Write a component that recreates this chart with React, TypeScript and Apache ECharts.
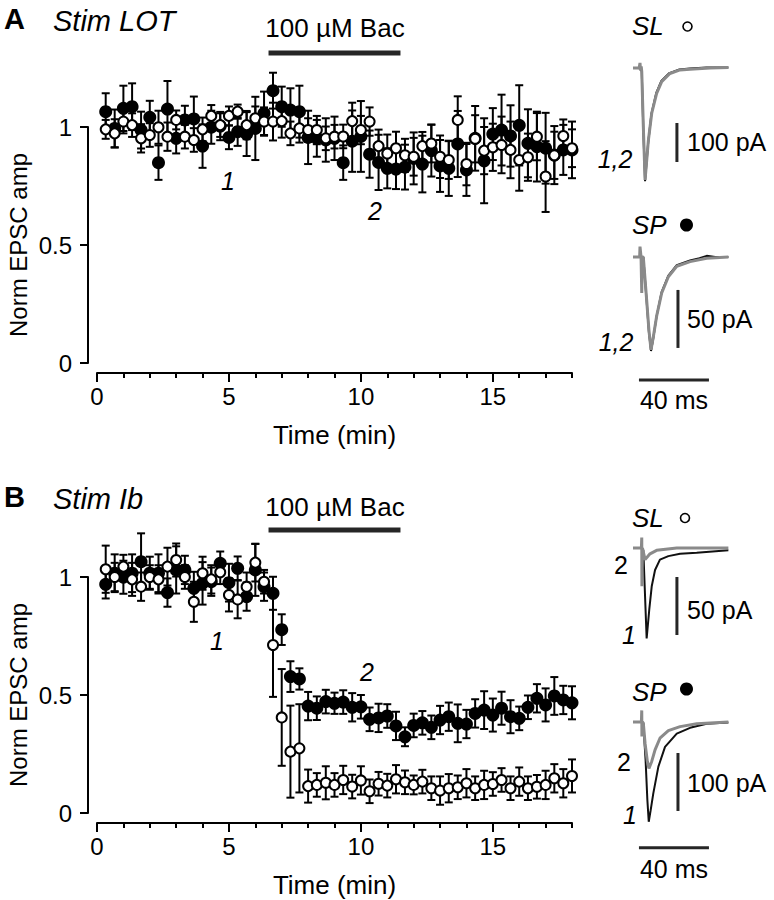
import React, { useEffect, useRef } from 'react';
import * as echarts from 'echarts';

const FONT = '"Liberation Sans", Arial, Helvetica, sans-serif';

// Sampling times (min)
const TIME = [0.33, 0.67, 1.0, 1.33, 1.67, 2.0, 2.33, 2.67, 3.0, 3.33, 3.67, 4.0, 4.33, 4.67, 5.0, 5.33, 5.67, 6.0,
  6.33, 6.67, 7.0, 7.33, 7.67, 8.0, 8.33, 8.67, 9.0, 9.33, 9.67, 10.0, 10.33, 10.67, 11.0, 11.33, 11.67, 12.0,
  12.33, 12.67, 13.0, 13.33, 13.67, 14.0, 14.33, 14.67, 15.0, 15.33, 15.67, 16.0, 16.33, 16.67, 17.0, 17.33, 17.67, 18.0];

// Panel A (Stim LOT)
const A_SP = [1.065, 0.994, 1.079, 1.086, 0.987, 1.041, 0.849, 1.076, 0.952, 1.03, 1.034, 0.919, 0.999, 1.004, 0.956, 0.98, 0.97, 0.994,
  1.058, 1.154, 1.086, 1.072, 1.065, 0.956, 0.952, 0.945, 0.952, 0.849, 0.94, 0.96, 0.885, 0.85, 0.825, 0.822, 0.83, 0.867,
  0.843, 0.9, 0.835, 0.825, 0.928, 0.818, 0.952, 0.857, 0.97, 0.987, 0.962, 1.007, 0.931, 0.917, 0.91, 0.881, 0.903, 0.903];
const A_SP_ERR = [0.078, 0.08, 0.096, 0.099, 0.078, 0.07, 0.073, 0.119, 0.064, 0.06, 0.095, 0.092, 0.07, 0.06, 0.05, 0.06, 0.093, 0.134,
  0.092, 0.076, 0.085, 0.092, 0.11, 0.113, 0.078, 0.092, 0.092, 0.073, 0.13, 0.15, 0.1, 0.117, 0.085, 0.085, 0.095, 0.11,
  0.12, 0.11, 0.11, 0.117, 0.14, 0.11, 0.137, 0.18, 0.11, 0.15, 0.13, 0.17, 0.144, 0.148, 0.15, 0.123, 0.106, 0.12];
const A_SL = [0.99, 0.973, 1.023, 1.008, 0.952, 0.966, 0.999, 0.959, 1.03, 0.959, 0.945, 0.99, 1.047, 1.008, 1.047, 1.065, 1.008, 1.037,
  1.023, 1.023, 1.025, 0.973, 0.994, 0.987, 0.987, 0.952, 0.959, 0.96, 1.025, 0.987, 1.023, 0.919, 0.888, 0.91, 0.88, 0.874,
  0.919, 0.93, 0.874, 0.86, 1.03, 0.843, 0.95, 0.9, 0.914, 0.924, 0.903, 0.86, 0.872, 0.959, 0.79, 0.88, 0.962, 0.91];
const A_SL_ERR = [0.04, 0.06, 0.05, 0.05, 0.06, 0.05, 0.07, 0.06, 0.04, 0.05, 0.05, 0.05, 0.046, 0.05, 0.04, 0.03, 0.06, 0.05,
  0.06, 0.08, 0.07, 0.05, 0.06, 0.05, 0.06, 0.05, 0.05, 0.05, 0.078, 0.06, 0.06, 0.07, 0.08, 0.07, 0.07, 0.08,
  0.06, 0.08, 0.09, 0.08, 0.1, 0.09, 0.1, 0.1, 0.1, 0.12, 0.12, 0.13, 0.1, 0.1, 0.15, 0.1, 0.07, 0.08];

// Panel B (Stim Ib)
const B_SP = [0.969, 1.016, 0.999, 1.016, 1.065, 1.016, 1.016, 0.934, 1.03, 1.03, 0.952, 0.973, 0.98, 1.058, 0.976, 1.037, 0.917, 1.03,
  0.959, 0.931, 0.777, 0.578, 0.568, 0.453, 0.444, 0.472, 0.465, 0.47, 0.448, 0.45, 0.397, 0.403, 0.411, 0.369, 0.323, 0.371,
  0.382, 0.363, 0.394, 0.408, 0.38, 0.377, 0.422, 0.436, 0.415, 0.444, 0.408, 0.401, 0.448, 0.486, 0.458, 0.496, 0.479, 0.467];
const B_SP_ERR = [0.06, 0.08, 0.07, 0.08, 0.12, 0.07, 0.08, 0.06, 0.1, 0.06, 0.07, 0.09, 0.06, 0.05, 0.08, 0.05, 0.06, 0.11,
  0.06, 0.07, 0.065, 0.065, 0.045, 0.06, 0.05, 0.05, 0.045, 0.05, 0.06, 0.05, 0.05, 0.06, 0.05, 0.06, 0.04, 0.05,
  0.05, 0.05, 0.06, 0.06, 0.08, 0.06, 0.06, 0.08, 0.07, 0.07, 0.07, 0.05, 0.05, 0.06, 0.07, 0.08, 0.06, 0.07];
const B_SL = [1.033, 1.0, 1.044, 0.99, 0.959, 1.0, 0.99, 1.044, 1.072, 1.0, 0.895, 1.016, 0.99, 1.02, 0.924, 0.905, 0.959, 1.061,
  0.98, 0.712, 0.405, 0.26, 0.274, 0.114, 0.119, 0.128, 0.119, 0.14, 0.112, 0.138, 0.092, 0.124, 0.116, 0.143, 0.13, 0.119,
  0.133, 0.105, 0.095, 0.105, 0.109, 0.126, 0.105, 0.119, 0.123, 0.14, 0.105, 0.133, 0.105, 0.111, 0.119, 0.147, 0.126, 0.157];
const B_SL_ERR = [0.1, 0.06, 0.05, 0.07, 0.06, 0.05, 0.06, 0.08, 0.07, 0.05, 0.085, 0.07, 0.06, 0.05, 0.07, 0.08, 0.06, 0.08,
  0.05, 0.22, 0.205, 0.195, 0.187, 0.07, 0.05, 0.07, 0.05, 0.06, 0.05, 0.06, 0.05, 0.05, 0.05, 0.06, 0.05, 0.04,
  0.05, 0.05, 0.06, 0.06, 0.05, 0.06, 0.05, 0.06, 0.05, 0.05, 0.05, 0.06, 0.05, 0.05, 0.06, 0.06, 0.06, 0.07];

// Baclofen application (min)
const BAC_START = 6.5;
const BAC_END = 11.5;

// Example EPSC traces: [time (ms), current (pA)]
const TR_A_SL_1 = [[0, 0], [3.5, 0], [5.0, -8], [5.9, -160], [6.9, -290], [8.6, -195], [10.5, -118], [13.3, -64], [16.2, -33],
  [20.8, -13], [26.5, -4], [32.5, -1], [42, 1], [54.5, 1]];
const TR_A_SL_2 = [[0, 0], [3.5, 0], [4.0, 13], [4.3, -6], [4.7, 4], [5.0, -9], [5.9, -150], [6.9, -287], [8.8, -185], [10.7, -116],
  [13.5, -65], [16.4, -35], [21.1, -14], [26.9, -5], [32.6, -3], [44, 0], [54.5, 1]];
const TR_A_SP_1 = [[0, 0], [4.0, 0], [5.9, 0], [7.8, -38], [9.1, -65], [10.3, -81], [11.6, -70], [13.5, -51], [16.4, -30],
  [20.2, -16], [25, -7], [32.6, -3], [38, -1], [42.1, 1], [47, 0], [54.5, 0]];
const TR_A_SP_2 = [[0, 0], [3.8, 0], [4.0, 9], [4.6, 0], [5.0, -31], [5.2, 0], [5.9, 0], [7.8, -37], [9.1, -63], [10.3, -80],
  [11.6, -69], [13.5, -51], [16.4, -31], [20.2, -17], [25, -8], [32.6, -4], [42.1, -1], [54.5, 0]];
const TR_B_SL_1 = [[0, 0], [5.0, 0], [5.9, -2], [7.8, -78], [9.3, -53], [10.7, -33], [12.6, -19], [15.4, -10], [20.2, -7],
  [26.9, -5], [36.4, -4], [54.5, -2]];
const TR_B_SL_2 = [[0, 0], [4.8, 0], [5.0, 9], [5.1, -33], [5.4, 0], [6.9, -10], [9.7, -5], [13.5, -2], [25, 0], [54.5, 0]];
const TR_B_SP_1 = [[0, 0], [5.0, 0], [5.9, -2], [7.2, -66], [8.2, -134], [9.0, -172], [10.1, -152], [11.6, -123], [14.5, -77],
  [18.3, -43], [25, -20], [32.6, -10], [42.1, -3], [54.5, -1]];
const TR_B_SP_2 = [[0, 0], [4.8, 0], [5.0, 20], [5.1, -25], [5.4, 0], [5.9, -2], [6.9, -37], [8.2, -68], [9.1, -80], [10.7, -68],
  [12.6, -48], [15.4, -28], [20.2, -15], [26.9, -8], [36.4, -3], [54.5, 0]];

// Scale bars
const SCALE_A_SL_PA = 100;
const SCALE_A_SP_PA = 50;
const SCALE_B_SL_PA = 50;
const SCALE_B_SP_PA = 100;
const SCALE_MS = 40;

const AX = { color: '#000', width: 2 };

function errSeries(x: number[], v: number[], e: number[], xi: number, yi: number, z: number) {
  return {
    type: 'custom',
    xAxisIndex: xi,
    yAxisIndex: yi,
    z,
    silent: true,
    data: x.map((t, i) => [t, v[i] - e[i], v[i] + e[i]]),
    encode: { x: 0, y: [1, 2] },
    renderItem: (_p: any, api: any) => {
      const t = api.value(0);
      const lo = api.coord([t, api.value(1)]);
      const hi = api.coord([t, api.value(2)]);
      const w = 4;
      const st = { stroke: '#000', lineWidth: 2 };
      return {
        type: 'group',
        children: [
          { type: 'line', shape: { x1: hi[0], y1: hi[1], x2: lo[0], y2: lo[1] }, style: st },
          { type: 'line', shape: { x1: hi[0] - w, y1: hi[1], x2: hi[0] + w, y2: hi[1] }, style: st },
          { type: 'line', shape: { x1: lo[0] - w, y1: lo[1], x2: lo[0] + w, y2: lo[1] }, style: st },
        ],
      };
    },
  };
}

function dotSeries(x: number[], v: number[], xi: number, yi: number, filled: boolean, z: number) {
  return {
    type: 'scatter',
    xAxisIndex: xi,
    yAxisIndex: yi,
    z,
    silent: true,
    data: x.map((t, i) => [t, v[i]]),
    symbol: 'circle',
    symbolSize: filled ? 13 : 10,
    itemStyle: filled
      ? { color: '#000', opacity: 1 }
      : { color: '#fff', borderColor: '#000', borderWidth: 2, opacity: 1 },
  };
}

function lineSeries(data: number[][], xi: number, yi: number, color: string, width: number, z: number) {
  return {
    type: 'line',
    xAxisIndex: xi,
    yAxisIndex: yi,
    z,
    silent: true,
    data,
    symbol: 'none',
    lineStyle: { color, width, cap: 'butt', opacity: 1 },
  };
}

const xMinor = (gridIndex: number) => ({
  type: 'value', gridIndex, min: 0, max: 18, interval: 1, offset: 10, position: 'bottom',
  axisLine: { show: true, onZero: false, lineStyle: AX },
  axisTick: { show: true, length: 5, lineStyle: AX },
  axisLabel: { show: false },
  splitLine: { show: false },
});
const xMajor = (gridIndex: number) => ({
  type: 'value', gridIndex, min: 0, max: 18, interval: 5, offset: 10, position: 'bottom',
  axisLine: { show: false, onZero: false },
  axisTick: { show: true, length: 9, customValues: [0, 5, 10, 15], lineStyle: AX },
  axisLabel: { show: true, customValues: [0, 5, 10, 15], fontSize: 24, color: '#000', fontFamily: FONT, margin: 11 },
  splitLine: { show: false },
  name: 'Time (min)', nameLocation: 'middle', nameGap: 49,
  nameTextStyle: { fontSize: 26, color: '#000', fontFamily: FONT },
});
const hidden = (gridIndex: number, min: number, max: number) => ({ type: 'value', gridIndex, min, max, show: false });
const yVisible = (gridIndex: number) => ({
  type: 'value', gridIndex, min: 0, max: 1, interval: 0.5, position: 'left',
  axisLine: { show: true, onZero: false, lineStyle: AX },
  axisTick: { show: true, length: 8, lineStyle: AX },
  axisLabel: { fontSize: 24, color: '#000', fontFamily: FONT, margin: 16 },
  splitLine: { show: false },
  name: 'Norm EPSC amp', nameLocation: 'middle', nameGap: 58,
  nameTextStyle: { fontSize: 24, color: '#000', fontFamily: FONT },
});

const g = (left: number, top: number, width: number, height: number) => ({
  left, top, width, height, containLabel: false, outerBoundsMode: 'none',
});

function txt(text: string, x: number, y: number, opts: any = {}) {
  return {
    type: 'text', x, y, silent: true, z: 10,
    style: { text, fontSize: 26, fontFamily: FONT, fill: '#000', align: 'left', verticalAlign: 'middle', ...opts },
  };
}

function buildOption() {
  const T0 = 633, PXMS = 1.75;
  const trX = (gridIndex: number) => hidden(gridIndex, 0, 55);
  const grids = [
    g(97, 363 - 1.35 * 236, 475, 1.35 * 236), // 0 A data
    g(88, 127, 4, 236), // 1 A y axis
    g(97, 813 - 1.3 * 236, 475, 1.3 * 236), // 2 B data
    g(88, 577, 4, 236), // 3 B y axis
    g(T0, 60.2, 55 * PXMS, 124.8), // 4 A SL trace
    g(T0, 239.6, 55 * PXMS, 145), // 5 A SP trace
    g(T0, 530.6, 55 * PXMS, 116), // 6 B SL trace
    g(T0, 707.5, 55 * PXMS, 145), // 7 B SP trace
  ];
  const xAxis = [
    xMinor(0), xMajor(0), hidden(1, 0, 1),
    xMinor(2), xMajor(2), hidden(3, 0, 1),
    trX(4), trX(5), trX(6), trX(7),
  ];
  const yAxis = [
    hidden(0, 0, 1.35), yVisible(1), hidden(2, 0, 1.3), yVisible(3),
    hidden(4, -300, 20), hidden(5, -110, 15), hidden(6, -85, 15), hidden(7, -225, 25),
  ];

  const BLACK = '#111', GRAY = '#8a8a8a', BAR = '#262626';
  const series: any[] = [
    // Panel A
    errSeries(TIME, A_SP, A_SP_ERR, 0, 0, 2),
    errSeries(TIME, A_SL, A_SL_ERR, 0, 0, 2),
    dotSeries(TIME, A_SP, 0, 0, true, 3),
    dotSeries(TIME, A_SL, 0, 0, false, 4),
    lineSeries([[BAC_START, 1.314], [BAC_END, 1.314]], 0, 0, BAR, 5, 2),
    // Panel B
    errSeries(TIME, B_SP, B_SP_ERR, 3, 2, 2),
    errSeries(TIME, B_SL, B_SL_ERR, 3, 2, 2),
    dotSeries(TIME, B_SP, 3, 2, true, 3),
    dotSeries(TIME, B_SL, 3, 2, false, 4),
    lineSeries([[BAC_START, 1.199], [BAC_END, 1.199]], 3, 2, BAR, 5, 2),
    // Traces
    lineSeries(TR_A_SL_1, 6, 4, BLACK, 2, 2),
    lineSeries(TR_A_SL_2, 6, 4, GRAY, 3, 3),
    lineSeries(TR_A_SP_1, 7, 5, BLACK, 2, 2),
    lineSeries(TR_A_SP_2, 7, 5, GRAY, 3, 3),
    lineSeries(TR_B_SL_1, 8, 6, BLACK, 2, 2),
    lineSeries(TR_B_SL_2, 8, 6, GRAY, 3, 3),
    lineSeries(TR_B_SP_1, 9, 7, BLACK, 2, 2),
    lineSeries(TR_B_SP_2, 9, 7, GRAY, 3, 3),
    // Scale bars
    lineSeries([[25.1, -141], [25.1, -141 - SCALE_A_SL_PA]], 6, 4, BAR, 3, 4),
    lineSeries([[25.7, -28.4], [25.7, -28.4 - SCALE_A_SP_PA]], 7, 5, BAR, 3, 4),
    lineSeries([[3.4, -106], [3.4 + SCALE_MS, -106]], 7, 5, BAR, 3, 4),
    lineSeries([[25.1, -25], [25.1, -25 - SCALE_B_SL_PA]], 8, 6, BAR, 3, 4),
    lineSeries([[25.7, -53.4], [25.7, -53.4 - SCALE_B_SP_PA]], 9, 7, BAR, 3, 4),
    lineSeries([[3.4, -217], [3.4 + SCALE_MS, -217]], 9, 7, BAR, 3, 4),
  ];

  const it = { fontStyle: 'italic' };
  const graphic = [
    // Panel A labels
    txt('A', 4, 19, { fontWeight: 'bold', fontSize: 29 }),
    txt('Stim LOT', 53, 21, { ...it, fontSize: 29 }),
    txt('100 µM Bac', 335, 28, { align: 'center', fontSize: 26 }),
    txt('1', 228, 181, { ...it, align: 'center', fontSize: 25 }),
    txt('2', 375, 211, { ...it, align: 'center', fontSize: 25 }),
    // Panel B labels
    txt('B', 4, 497, { fontWeight: 'bold', fontSize: 29 }),
    txt('Stim Ib', 53, 499, { ...it, fontSize: 29 }),
    txt('100 µM Bac', 335, 507, { align: 'center', fontSize: 26 }),
    txt('1', 217, 641, { ...it, align: 'center', fontSize: 25 }),
    txt('2', 367, 672, { ...it, align: 'center', fontSize: 25 }),
    // Trace annotations, panel A
    txt('SL', 632, 26, { ...it, fontSize: 26 }),
    { type: 'circle', shape: { cx: 687.5, cy: 26.5, r: 4.5 }, style: { fill: '#fff', stroke: '#000', lineWidth: 1.6 }, silent: true },
    txt('1,2', 615, 159, { ...it, align: 'center', fontSize: 25 }),
    txt('100 pA', 687, 142, { fontSize: 25 }),
    txt('SP', 632, 225, { ...it, fontSize: 26 }),
    { type: 'circle', shape: { cx: 686.5, cy: 225, r: 6.5 }, style: { fill: '#000' }, silent: true },
    txt('1,2', 616, 342, { ...it, align: 'center', fontSize: 25 }),
    txt('50 pA', 687, 319, { fontSize: 25 }),
    txt('40 ms', 674, 400, { align: 'center', fontSize: 25 }),
    // Trace annotations, panel B
    txt('SL', 632, 518, { ...it, fontSize: 26 }),
    { type: 'circle', shape: { cx: 685, cy: 518, r: 4.5 }, style: { fill: '#fff', stroke: '#000', lineWidth: 1.6 }, silent: true },
    txt('2', 621, 565, { align: 'center', fontSize: 25 }),
    txt('1', 629, 635, { ...it, align: 'center', fontSize: 25 }),
    txt('50 pA', 687, 610, { fontSize: 25 }),
    txt('SP', 632, 692, { ...it, fontSize: 26 }),
    { type: 'circle', shape: { cx: 686.5, cy: 689, r: 6.5 }, style: { fill: '#000' }, silent: true },
    txt('2', 624, 762, { align: 'center', fontSize: 25 }),
    txt('1', 630, 815, { ...it, align: 'center', fontSize: 25 }),
    txt('100 pA', 687, 783, { fontSize: 25 }),
    txt('40 ms', 674, 869, { align: 'center', fontSize: 25 }),
  ];

  return {
    animation: false,
    backgroundColor: '#fff',
    textStyle: { fontFamily: FONT },
    grid: grids,
    xAxis,
    yAxis,
    series,
    graphic,
  };
}

export default function App() {
  const ref = useRef<HTMLDivElement>(null);
  useEffect(() => {
    if (!ref.current) return;
    const chart = echarts.init(ref.current, null, { renderer: 'svg' });
    chart.setOption(buildOption() as any);
    return () => chart.dispose();
  }, []);
  return (
    <div
      ref={ref}
      style={{ position: 'absolute', left: 0, top: 0, width: 774, height: 900, background: '#fff' }}
    />
  );
}
